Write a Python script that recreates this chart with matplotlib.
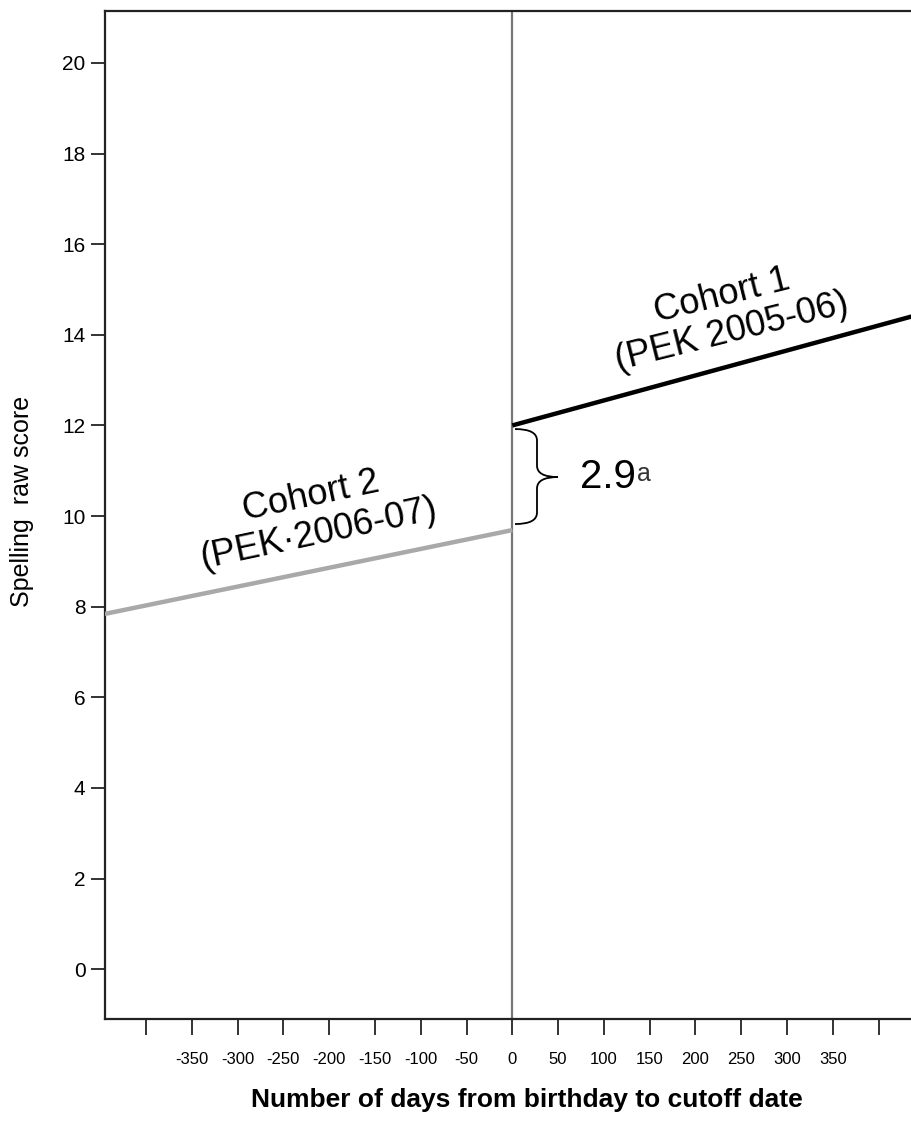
import matplotlib
matplotlib.use("Agg")
import matplotlib.pyplot as plt
from matplotlib.path import Path
from matplotlib.patches import PathPatch
import numpy as np

# ---- data ----
cohort1_x = [0, 437]
cohort1_y = [12.0, 14.41]
cohort2_x = [-445, 0]
cohort2_y = [7.84, 9.69]
x_ticks = list(range(-400, 401, 50))
x_tick_labels = ["" if abs(t) == 400 else str(t) for t in x_ticks]
y_ticks = list(range(0, 21, 2))
gap_label = "2.9"
cohort1_label = "Cohort 1\n(PEK 2005-06)"
cohort2_label = "Cohort 2\n(PEK\u00b72006-07)"

W, H = 912, 1127
fig = plt.figure(figsize=(W / 100, H / 100), dpi=100)
plt.rcParams['font.family'] = ['Liberation Sans', 'DejaVu Sans']

ax = fig.add_axes([105 / W, 1 - 1019 / H, (912 - 105) / W, (1019 - 11.3) / H])
ax.set_xlim(-444.7, 436.4)
ax.set_ylim(-1.10, 21.14)

for s in ['left', 'bottom', 'top']:
    ax.spines[s].set_linewidth(1.6)
    ax.spines[s].set_color('#222222')
ax.spines['right'].set_visible(False)

ax.plot(cohort2_x, cohort2_y, color='#a9a9a9', lw=3.2, solid_capstyle='butt', zorder=3)
ax.plot(cohort1_x, cohort1_y, color='black', lw=3.2, solid_capstyle='butt', zorder=3)

# vertical line at 0
ax.axvline(0, color='#777777', lw=1.6, zorder=2)

ax.set_xticks(x_ticks)
ax.set_xticklabels(x_tick_labels, fontsize=12)
ax.tick_params(axis='x', direction='out', length=11.5, width=1.4, colors='#333333', pad=12, labelcolor='black')
ax.set_yticks(y_ticks)
ax.set_yticklabels([str(t) for t in y_ticks], fontsize=15)
ax.tick_params(axis='y', direction='out', length=10, width=1.4, colors='#333333', pad=4, labelcolor='black')

# brace
def px2d(px, py):
    return ((px - 512.3) / 0.916, (969 - py) / 45.3)

x0, ytop = px2d(515, 429)
_, ybot = px2d(515, 524)
xm, _ = px2d(537, 0)
xt, ymid = px2d(558, 477)
d = (ytop - ybot) * 0.12
verts = [
    (x0, ytop), (xm, ytop), (xm, ytop - d),
    (xm, ymid + d),
    (xm, ymid), (xt, ymid),
    (xm, ymid), (xm, ymid - d),
    (xm, ybot + d),
    (xm, ybot), (x0, ybot),
]
codes = [Path.MOVETO, Path.CURVE3, Path.CURVE3, Path.LINETO,
         Path.CURVE3, Path.CURVE3, Path.CURVE3, Path.CURVE3,
         Path.LINETO, Path.CURVE3, Path.CURVE3]
ax.add_patch(PathPatch(Path(verts, codes), fill=False, lw=1.3, color='black', zorder=4))

gx, gy = px2d(580, 488)
ax.text(gx, gy, gap_label, fontsize=29, va='baseline', ha='left')
axx, ayy = px2d(637, 481)
ax.text(axx, ayy, "a", fontsize=18, va='baseline', ha='left', color='#333333')

c1x, c1y = px2d(727, 314)
ax.text(c1x, c1y, cohort1_label, fontsize=26, rotation=14, ha='center', va='center',
        rotation_mode='anchor', multialignment='center', linespacing=1.1)
c2x, c2y = px2d(315, 515)
ax.text(c2x, c2y, cohort2_label, fontsize=26, rotation=12, ha='center', va='center',
        rotation_mode='anchor', multialignment='center', linespacing=1.1)

fig.text(22 / W, 1 - 501 / H, "Spelling  raw score", rotation=90, ha='center', va='center', fontsize=18)
fig.text(527 / W, 1 - 1100 / H, "Number of days from birthday to cutoff date", ha='center', va='center',
         fontsize=19, fontweight='bold')

fig.savefig("out.png", dpi=100)
